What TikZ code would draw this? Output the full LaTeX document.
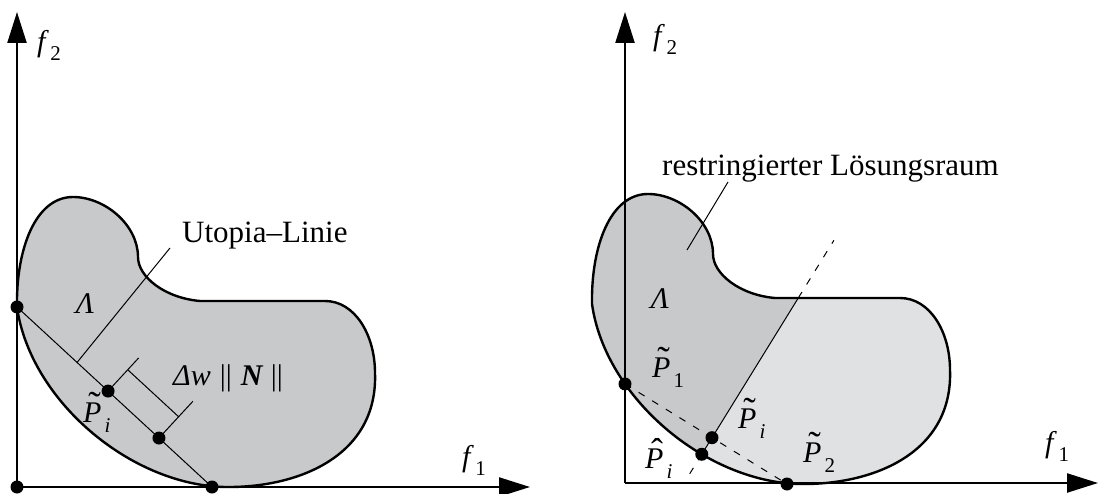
\documentclass[tikz,border=0pt]{standalone}
\usepackage{fontspec}
\setmainfont{Liberation Serif}
\usetikzlibrary{arrows.meta,calc,intersections}
\definecolor{beanA}{RGB}{200,201,203}
\definecolor{beanB}{RGB}{224,225,227}
\newcommand{\Ptil}{\leavevmode\rlap{\kern0.17em\raisebox{0.16em}{\scalebox{1.25}{\char"02DC}}}\textit{P}}
\newcommand{\Phat}{\leavevmode\rlap{\kern0.2em\raisebox{0.16em}{\scalebox{1.2}{\char"02C6}}}\textit{P}}
\newcommand{\sbs}[1]{\kern3pt\raisebox{-10pt}{\fontsize{21}{21}\selectfont #1}}
\newcommand{\fsub}[1]{\textit{f}\kern1.5pt\raisebox{-9pt}{\fontsize{21}{21}\selectfont #1}}
\newcommand{\bean}{(17,307) .. controls (16,250) and (35,197) .. (73,197)
  .. controls (105,197) and (138,225) .. (138,257)
  .. controls (138,277) and (165,298) .. (200,301) -- (325,301)
  .. controls (355,301) and (375,335) .. (375,373)
  .. controls (378,455) and (300,488) .. (225,487)
  .. controls (130,485) and (30,400) .. (17,307) -- cycle}
\tikzset{
 mlabel/.style={font=\fontsize{30}{34}\selectfont, inner sep=0pt, anchor=base west},
 tlabel/.style={font=\fontsize{31}{36}\selectfont, inner sep=0pt, anchor=base west},
 axisline/.style={line width=2.3pt, -{Triangle[length=31pt,width=19pt]}},
 outline/.style={line width=2.4pt, line join=round},
 thinline/.style={line width=1pt},
 dashline/.style={line width=1pt, dash pattern=on 7pt off 9pt},
 dot/.style={circle, fill=black, inner sep=0pt, minimum size=13pt},
}
\begin{document}
\begin{tikzpicture}[x=1pt,y=-1pt]
\useasboundingbox (0,0) rectangle (1099,494);
% ---------------- left panel ----------------
\coordinate (O1) at (17,487);
\coordinate (A) at (17,307);
\coordinate (B) at (212,487);
\fill[beanA] \bean;
\coordinate (D1) at ($(A)!0.467!(B)$);
\coordinate (D2) at ($(A)!0.728!(B)$);
\coordinate (F) at ($(A)!0.308!(B)$);
\coordinate (Fe) at (170,248);
\draw[thinline] (A) -- (B);
\draw[thinline] (F) -- (Fe);
\draw[thinline] (D1) -- ($(D1)!45pt!90:(B)$);
\draw[thinline] (D2) -- ($(D2)!50pt!90:(B)$);
\draw[thinline] ($(D1)!29pt!90:(B)$) -- ($(D2)!29pt!90:(B)$);
\draw[outline] \bean;
\draw[axisline] (O1) -- (17,12);
\draw[axisline] (O1) -- (530,487);
\foreach \p in {O1,A,B,D1,D2} \node[dot] at (\p) {};
\node[mlabel] (f2l) at (37,52) {\fsub{2}};
\node[mlabel] (f1l) at (462,466) {\fsub{1}};
\node[tlabel] (utl) at (182,242) {Utopia–Linie};
\node[mlabel, anchor=base] (lam1) at (85,313) {\textit{Λ}};
\node[mlabel] (dwl) at (173,385) {\textit{Δw}\hspace{0.3em}||\hspace{0.3em}\textbf{\textit{N}}\hspace{0.25em}||};
\node[mlabel] (pil) at (83,422) {\Ptil\sbs{\textit{i}}};
% ---------------- right panel ----------------
\coordinate (O2) at (625,483);
\path[name path=ryl] (625,490) -- (625,100);
\path[name path=rs, shift={(575,-3)}] \bean;
\path[name intersections={of=ryl and rs, sort by=ryl, by={Q1,Qtop}}];
\coordinate (Q2) at (787,484);
\coordinate (Qi) at ($(Q1)!0.537!(Q2)$);
\path[name path=perp] ($(Qi)!60pt!-90:(Q2)$) -- ($(Qi)!200pt!90:(Q2)$);
\path[name intersections={of=perp and rs, sort by=perp, by={Qh,T}}];
\coordinate (Tf) at ($(Qi)!300pt!90:(Q2)$);
\coordinate (Bf) at ($(Qi)!100pt!-90:(Q2)$);
\coordinate (Tu) at ($(Qi)!232pt!90:(Q2)$);
\coordinate (Td) at ($(Qi)!49pt!-90:(Q2)$);
\fill[beanB, shift={(575,-3)}] \bean;
\begin{scope}
  \clip[shift={(575,-3)}] \bean;
  \fill[beanA] (Tf) -- (Bf) -- ($(Bf)+(-300,0)$) -- ($(Tf)+(-300,0)$) -- cycle;
\end{scope}
\draw[dashline] (Q1) -- (Q2);
\draw[dashline] (T) -- (Tu);
\draw[dashline] (Qh) -- (Td);
\draw[thinline] (Qh) -- (T);
\coordinate (L1) at (728,182);
\coordinate (L2) at (687,250);
\draw[thinline] (L1) -- (L2);
\draw[outline, shift={(575,-3)}] \bean;
\draw[axisline] (O2) -- (625,12);
\draw[axisline] (O2) -- (1098,483);
\foreach \p in {Q1,Q2,Qi,Qh} \node[dot] at (\p) {};
\node[mlabel] (f2r) at (653,46) {\fsub{2}};
\node[mlabel] (f1r) at (1045,452) {\fsub{1}};
\node[tlabel] (rlr) at (662,176) {restringierter Lösungsraum};
\node[mlabel, anchor=base] (lam2) at (660,308) {\textit{Λ}};
\node[mlabel] (p1r) at (652,377) {\Ptil\sbs{1}};
\node[mlabel] (phr) at (645,468) {\Phat\sbs{\textit{i}}};
\node[mlabel] (pir) at (738,428) {\Ptil\sbs{\textit{i}}};
\node[mlabel] (p2r) at (803,462) {\Ptil\sbs{2}};
\end{tikzpicture}
\end{document}
